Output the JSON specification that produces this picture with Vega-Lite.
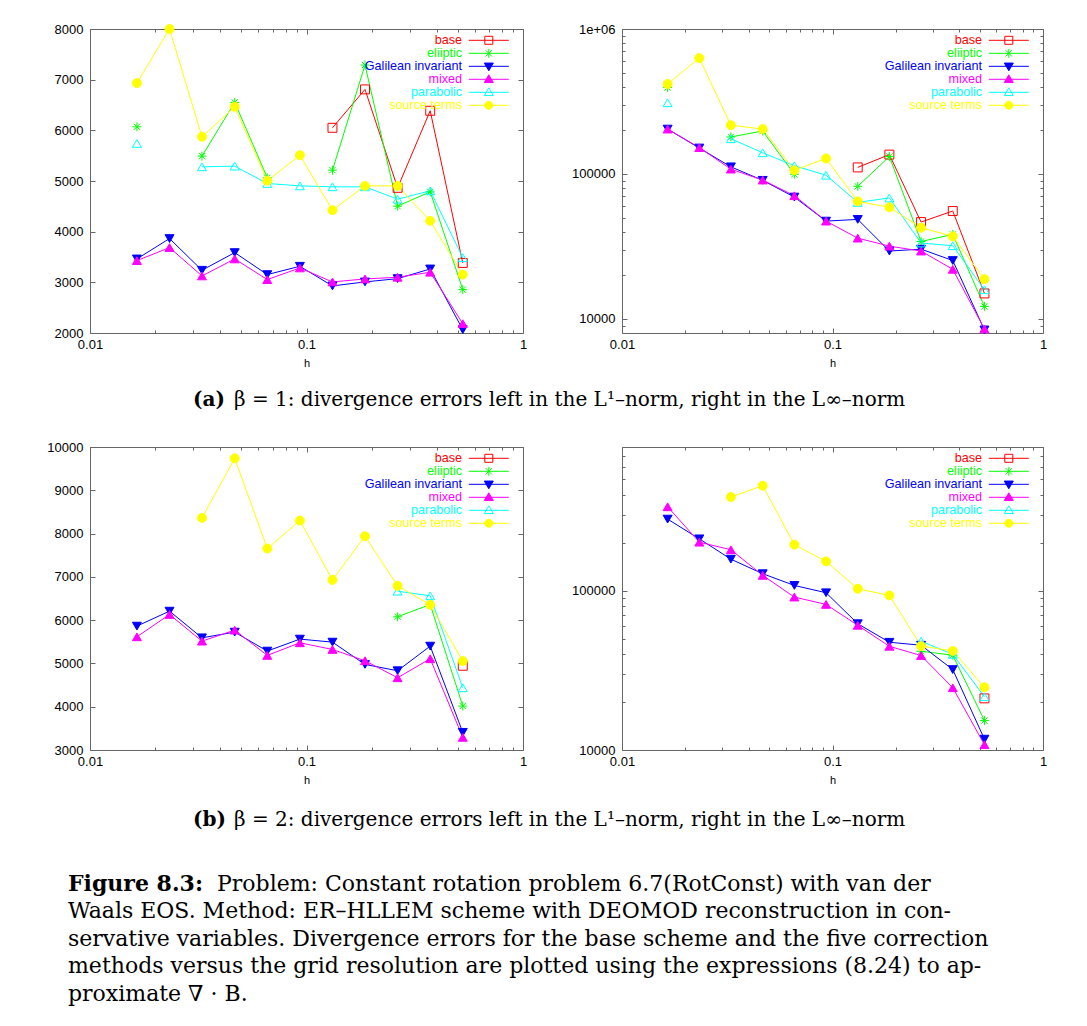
{
"$schema":"https://vega.github.io/schema/vega-lite/v6.json",
"padding":{"left":46,"top":22,"right":0,"bottom":0},
"background":"white",
"datasets":{"d":[
{"p":"a1","s":"base","h":0.1318,"v":6050},{"p":"a1","s":"base","h":0.1863,"v":6808},{"p":"a1","s":"base","h":0.2635,"v":4865},{"p":"a1","s":"base","h":0.3727,"v":6386},{"p":"a1","s":"base","h":0.527,"v":3383},
{"p":"a1","s":"eliiptic","h":0.01647,"v":6070},{"p":"a1","s":"eliiptic","h":0.0233,"v":null},{"p":"a1","s":"eliiptic","h":0.0329,"v":5491},{"p":"a1","s":"eliiptic","h":0.0466,"v":6551},{"p":"a1","s":"eliiptic","h":0.0659,"v":5063},{"p":"a1","s":"eliiptic","h":0.0932,"v":null},{"p":"a1","s":"eliiptic","h":0.1318,"v":5214},{"p":"a1","s":"eliiptic","h":0.1863,"v":7289},{"p":"a1","s":"eliiptic","h":0.2635,"v":4503},{"p":"a1","s":"eliiptic","h":0.3727,"v":4786},{"p":"a1","s":"eliiptic","h":0.527,"v":2856},
{"p":"a1","s":"Galilean invariant","h":0.01647,"v":3462},{"p":"a1","s":"Galilean invariant","h":0.0233,"v":3864},{"p":"a1","s":"Galilean invariant","h":0.0329,"v":3238},{"p":"a1","s":"Galilean invariant","h":0.0466,"v":3587},{"p":"a1","s":"Galilean invariant","h":0.0659,"v":3153},{"p":"a1","s":"Galilean invariant","h":0.0932,"v":3317},{"p":"a1","s":"Galilean invariant","h":0.1318,"v":2929},{"p":"a1","s":"Galilean invariant","h":0.1863,"v":3008},{"p":"a1","s":"Galilean invariant","h":0.2635,"v":3073},{"p":"a1","s":"Galilean invariant","h":0.3727,"v":3264},{"p":"a1","s":"Galilean invariant","h":0.527,"v":2066},
{"p":"a1","s":"mixed","h":0.01647,"v":3429},{"p":"a1","s":"mixed","h":0.0233,"v":3686},{"p":"a1","s":"mixed","h":0.0329,"v":3126},{"p":"a1","s":"mixed","h":0.0466,"v":3462},{"p":"a1","s":"mixed","h":0.0659,"v":3054},{"p":"a1","s":"mixed","h":0.0932,"v":3284},{"p":"a1","s":"mixed","h":0.1318,"v":3008},{"p":"a1","s":"mixed","h":0.1863,"v":3067},{"p":"a1","s":"mixed","h":0.2635,"v":3100},{"p":"a1","s":"mixed","h":0.3727,"v":3199},{"p":"a1","s":"mixed","h":0.527,"v":2184},
{"p":"a1","s":"parabolic","h":0.01647,"v":5741},{"p":"a1","s":"parabolic","h":0.0233,"v":null},{"p":"a1","s":"parabolic","h":0.0329,"v":5280},{"p":"a1","s":"parabolic","h":0.0466,"v":5293},{"p":"a1","s":"parabolic","h":0.0659,"v":4951},{"p":"a1","s":"parabolic","h":0.0932,"v":4904},{"p":"a1","s":"parabolic","h":0.1318,"v":4885},{"p":"a1","s":"parabolic","h":0.1863,"v":4885},{"p":"a1","s":"parabolic","h":0.2635,"v":4641},{"p":"a1","s":"parabolic","h":0.3727,"v":4806},{"p":"a1","s":"parabolic","h":0.527,"v":3488},
{"p":"a1","s":"source terms","h":0.01647,"v":6933},{"p":"a1","s":"source terms","h":0.0233,"v":8000},{"p":"a1","s":"source terms","h":0.0329,"v":5873},{"p":"a1","s":"source terms","h":0.0466,"v":6465},{"p":"a1","s":"source terms","h":0.0659,"v":5003},{"p":"a1","s":"source terms","h":0.0932,"v":5510},{"p":"a1","s":"source terms","h":0.1318,"v":4424},{"p":"a1","s":"source terms","h":0.1863,"v":4904},{"p":"a1","s":"source terms","h":0.2635,"v":4904},{"p":"a1","s":"source terms","h":0.3727,"v":4213},{"p":"a1","s":"source terms","h":0.527,"v":3152},

{"p":"a2","s":"base","h":0.1318,"v":111000},{"p":"a2","s":"base","h":0.1863,"v":136000},{"p":"a2","s":"base","h":0.2635,"v":46600},{"p":"a2","s":"base","h":0.3727,"v":55500},{"p":"a2","s":"base","h":0.527,"v":15000},
{"p":"a2","s":"eliiptic","h":0.01647,"v":395000},{"p":"a2","s":"eliiptic","h":0.0233,"v":null},{"p":"a2","s":"eliiptic","h":0.0329,"v":180000},{"p":"a2","s":"eliiptic","h":0.0466,"v":198000},{"p":"a2","s":"eliiptic","h":0.0659,"v":99500},{"p":"a2","s":"eliiptic","h":0.0932,"v":null},{"p":"a2","s":"eliiptic","h":0.1318,"v":82200},{"p":"a2","s":"eliiptic","h":0.1863,"v":132000},{"p":"a2","s":"eliiptic","h":0.2635,"v":34200},{"p":"a2","s":"eliiptic","h":0.3727,"v":38300},{"p":"a2","s":"eliiptic","h":0.527,"v":12200},
{"p":"a2","s":"Galilean invariant","h":0.01647,"v":204000},{"p":"a2","s":"Galilean invariant","h":0.0233,"v":151000},{"p":"a2","s":"Galilean invariant","h":0.0329,"v":112000},{"p":"a2","s":"Galilean invariant","h":0.0466,"v":90400},{"p":"a2","s":"Galilean invariant","h":0.0659,"v":69300},{"p":"a2","s":"Galilean invariant","h":0.0932,"v":47300},{"p":"a2","s":"Galilean invariant","h":0.1318,"v":48600},{"p":"a2","s":"Galilean invariant","h":0.1863,"v":29400},{"p":"a2","s":"Galilean invariant","h":0.2635,"v":30300},{"p":"a2","s":"Galilean invariant","h":0.3727,"v":25300},{"p":"a2","s":"Galilean invariant","h":0.527,"v":8400},
{"p":"a2","s":"mixed","h":0.01647,"v":204000},{"p":"a2","s":"mixed","h":0.0233,"v":152000},{"p":"a2","s":"mixed","h":0.0329,"v":108000},{"p":"a2","s":"mixed","h":0.0466,"v":90800},{"p":"a2","s":"mixed","h":0.0659,"v":70800},{"p":"a2","s":"mixed","h":0.0932,"v":47300},{"p":"a2","s":"mixed","h":0.1318,"v":36100},{"p":"a2","s":"mixed","h":0.1863,"v":31800},{"p":"a2","s":"mixed","h":0.2635,"v":29400},{"p":"a2","s":"mixed","h":0.3727,"v":22000},{"p":"a2","s":"mixed","h":0.527,"v":8530},
{"p":"a2","s":"parabolic","h":0.01647,"v":310000},{"p":"a2","s":"parabolic","h":0.0233,"v":null},{"p":"a2","s":"parabolic","h":0.0329,"v":175000},{"p":"a2","s":"parabolic","h":0.0466,"v":140000},{"p":"a2","s":"parabolic","h":0.0659,"v":114000},{"p":"a2","s":"parabolic","h":0.0932,"v":98000},{"p":"a2","s":"parabolic","h":0.1318,"v":63700},{"p":"a2","s":"parabolic","h":0.1863,"v":68300},{"p":"a2","s":"parabolic","h":0.2635,"v":33400},{"p":"a2","s":"parabolic","h":0.3727,"v":32000},{"p":"a2","s":"parabolic","h":0.527,"v":15900},
{"p":"a2","s":"source terms","h":0.01647,"v":417000},{"p":"a2","s":"source terms","h":0.0233,"v":630000},{"p":"a2","s":"source terms","h":0.0329,"v":217000},{"p":"a2","s":"source terms","h":0.0466,"v":204000},{"p":"a2","s":"source terms","h":0.0659,"v":106000},{"p":"a2","s":"source terms","h":0.0932,"v":128000},{"p":"a2","s":"source terms","h":0.1318,"v":64700},{"p":"a2","s":"source terms","h":0.1863,"v":58900},{"p":"a2","s":"source terms","h":0.2635,"v":42600},{"p":"a2","s":"source terms","h":0.3727,"v":37100},{"p":"a2","s":"source terms","h":0.527,"v":18800},

{"p":"b1","s":"base","h":0.527,"v":4946},
{"p":"b1","s":"eliiptic","h":0.2635,"v":6077},{"p":"b1","s":"eliiptic","h":0.3727,"v":6362},{"p":"b1","s":"eliiptic","h":0.527,"v":4015},
{"p":"b1","s":"Galilean invariant","h":0.01647,"v":5862},{"p":"b1","s":"Galilean invariant","h":0.0233,"v":6208},{"p":"b1","s":"Galilean invariant","h":0.0329,"v":5592},{"p":"b1","s":"Galilean invariant","h":0.0466,"v":5723},{"p":"b1","s":"Galilean invariant","h":0.0659,"v":5285},{"p":"b1","s":"Galilean invariant","h":0.0932,"v":5562},{"p":"b1","s":"Galilean invariant","h":0.1318,"v":5492},{"p":"b1","s":"Galilean invariant","h":0.1863,"v":4977},{"p":"b1","s":"Galilean invariant","h":0.2635,"v":4831},{"p":"b1","s":"Galilean invariant","h":0.3727,"v":5400},{"p":"b1","s":"Galilean invariant","h":0.527,"v":3408},
{"p":"b1","s":"mixed","h":0.01647,"v":5615},{"p":"b1","s":"mixed","h":0.0233,"v":6131},{"p":"b1","s":"mixed","h":0.0329,"v":5515},{"p":"b1","s":"mixed","h":0.0466,"v":5769},{"p":"b1","s":"mixed","h":0.0659,"v":5185},{"p":"b1","s":"mixed","h":0.0932,"v":5477},{"p":"b1","s":"mixed","h":0.1318,"v":5323},{"p":"b1","s":"mixed","h":0.1863,"v":5062},{"p":"b1","s":"mixed","h":0.2635,"v":4669},{"p":"b1","s":"mixed","h":0.3727,"v":5108},{"p":"b1","s":"mixed","h":0.527,"v":3292},
{"p":"b1","s":"parabolic","h":0.2635,"v":6669},{"p":"b1","s":"parabolic","h":0.3727,"v":6562},{"p":"b1","s":"parabolic","h":0.527,"v":4438},
{"p":"b1","s":"source terms","h":0.0329,"v":8362},{"p":"b1","s":"source terms","h":0.0466,"v":9738},{"p":"b1","s":"source terms","h":0.0659,"v":7654},{"p":"b1","s":"source terms","h":0.0932,"v":8300},{"p":"b1","s":"source terms","h":0.1318,"v":6931},{"p":"b1","s":"source terms","h":0.1863,"v":7938},{"p":"b1","s":"source terms","h":0.2635,"v":6792},{"p":"b1","s":"source terms","h":0.3727,"v":6354},{"p":"b1","s":"source terms","h":0.527,"v":5054},

{"p":"b2","s":"base","h":0.527,"v":21100},
{"p":"b2","s":"eliiptic","h":0.2635,"v":41700},{"p":"b2","s":"eliiptic","h":0.3727,"v":39400},{"p":"b2","s":"eliiptic","h":0.527,"v":15300},
{"p":"b2","s":"Galilean invariant","h":0.01647,"v":282000},{"p":"b2","s":"Galilean invariant","h":0.0233,"v":212000},{"p":"b2","s":"Galilean invariant","h":0.0329,"v":158000},{"p":"b2","s":"Galilean invariant","h":0.0466,"v":128000},{"p":"b2","s":"Galilean invariant","h":0.0659,"v":108000},{"p":"b2","s":"Galilean invariant","h":0.0932,"v":97200},{"p":"b2","s":"Galilean invariant","h":0.1318,"v":62100},{"p":"b2","s":"Galilean invariant","h":0.1863,"v":47500},{"p":"b2","s":"Galilean invariant","h":0.2635,"v":45500},{"p":"b2","s":"Galilean invariant","h":0.3727,"v":32000},{"p":"b2","s":"Galilean invariant","h":0.527,"v":11700},
{"p":"b2","s":"mixed","h":0.01647,"v":337000},{"p":"b2","s":"mixed","h":0.0233,"v":202000},{"p":"b2","s":"mixed","h":0.0329,"v":181000},{"p":"b2","s":"mixed","h":0.0466,"v":125000},{"p":"b2","s":"mixed","h":0.0659,"v":91300},{"p":"b2","s":"mixed","h":0.0932,"v":82100},{"p":"b2","s":"mixed","h":0.1318,"v":60700},{"p":"b2","s":"mixed","h":0.1863,"v":44800},{"p":"b2","s":"mixed","h":0.2635,"v":39200},{"p":"b2","s":"mixed","h":0.3727,"v":24600},{"p":"b2","s":"mixed","h":0.527,"v":10800},
{"p":"b2","s":"parabolic","h":0.2635,"v":48200},{"p":"b2","s":"parabolic","h":0.3727,"v":39900},{"p":"b2","s":"parabolic","h":0.527,"v":21600},
{"p":"b2","s":"source terms","h":0.0329,"v":388000},{"p":"b2","s":"source terms","h":0.0466,"v":457000},{"p":"b2","s":"source terms","h":0.0659,"v":195000},{"p":"b2","s":"source terms","h":0.0932,"v":153000},{"p":"b2","s":"source terms","h":0.1318,"v":103000},{"p":"b2","s":"source terms","h":0.1863,"v":93500},{"p":"b2","s":"source terms","h":0.2635,"v":45000},{"p":"b2","s":"source terms","h":0.3727,"v":41900},{"p":"b2","s":"source terms","h":0.527,"v":24800}
]},
"columns":1,
"spacing":0,
"resolve":{"scale":{"color":"independent","shape":"independent","stroke":"independent","fill":"independent"}},
"concat":[
{"hconcat":[
 {"width":433,"height":304,"data":{"name":"d"},"transform":[{"filter":"datum.p=='a1'"}],
  "layer":[
   {"mark":{"type":"line","strokeWidth":1,"clip":true,"invalid":"break-paths-filter-domains"},
    "encoding":{
     "x":{"field":"h","type":"quantitative","scale":{"type":"log","domain":[0.01,1]},"axis":{"orient":"bottom","title":"h","values":[0.01,0.02,0.03,0.04,0.05,0.06,0.07,0.08,0.09,0.1,0.2,0.3,0.4,0.5,0.6,0.7,0.8,0.9,1],"labelExpr":"datum.value==0.01?'0.01':datum.value==0.1?'0.1':datum.value==1?'1':''","tickSize":{"condition":{"test":"datum.value==0.01||datum.value==0.1||datum.value==1","value":-5},"value":-3},"labelPadding":10.5,"titlePadding":4}},
     "y":{"field":"v","type":"quantitative","scale":{"domain":[2000,8000],"zero":false,"nice":false},"axis":{"orient":"left","title":null,"values":[2000,3000,4000,5000,6000,7000,8000],"format":"d","tickSize":-5,"labelPadding":12}},
     "color":{"field":"s","type":"nominal","scale":{"domain":["base","eliiptic","Galilean invariant","mixed","parabolic","source terms"],"range":["#ff0000","#00ff00","#0000ff","#ff00ff","#00ffff","#ffff00"]},
      "legend":{"orient":"none","legendX":392.5,"legendY":5,"title":null,"padding":0,"rowPadding":-2.4,"symbolSize":100,"symbolStrokeWidth":1,"symbolOpacity":1,
       "symbolType":{"expr":"datum.value=='base'?'M-4,0H4M-0.8,-0.8H0.8V0.8H-0.8Z':datum.value=='eliiptic'?'M-4,0H4M0,-0.9V0.9M-0.64,-0.64L0.64,0.64M-0.64,0.64L0.64,-0.64':datum.value=='Galilean invariant'?'M-4,0H4M-0.9,-0.65H0.9L0,0.9Z':datum.value=='source terms'?'M-4,0H4M-0.8,0A0.8,0.8,0,1,0,0.8,0A0.8,0.8,0,1,0,-0.8,0Z':'M-4,0H4M-0.9,0.65H0.9L0,-0.9Z'"},
       "symbolFillColor":{"expr":"datum.value=='Galilean invariant'?'#0000ff':datum.value=='mixed'?'#ff00ff':datum.value=='source terms'?'#ffff00':'transparent'"},
       "labelAlign":"right","labelOffset":-33,"labelFont":"Liberation Sans","labelFontSize":12.6,
       "labelColor":{"expr":"datum.value=='base'?'#ff0000':datum.value=='eliiptic'?'#00ff00':datum.value=='Galilean invariant'?'#0000ff':datum.value=='mixed'?'#ff00ff':datum.value=='parabolic'?'#00ffff':'#ffff00'"}}}
    }},
   {"mark":{"type":"point","size":80,"strokeWidth":1,"opacity":1},
    "encoding":{
     "x":{"field":"h","type":"quantitative","axis":{"orient":"top","labels":false,"title":null,"values":[0.01,0.02,0.03,0.04,0.05,0.06,0.07,0.08,0.09,0.1,0.2,0.3,0.4,0.5,0.6,0.7,0.8,0.9,1],"tickSize":{"condition":{"test":"datum.value==0.01||datum.value==0.1||datum.value==1","value":-5},"value":-3}}},
     "y":{"field":"v","type":"quantitative","axis":{"orient":"right","labels":false,"title":null,"values":[2000,3000,4000,5000,6000,7000,8000],"tickSize":-5}},
     "shape":{"field":"s","type":"nominal","scale":{"domain":["source terms","parabolic","mixed","Galilean invariant","eliiptic","base"],"range":["circle","triangle-up","triangle-up","triangle-down","M-1,0H1M0,-1V1M-0.7,-0.7L0.7,0.7M-0.7,0.7L0.7,-0.7","square"]},"legend":null},
     "stroke":{"field":"s","type":"nominal","scale":{"domain":["source terms","parabolic","mixed","Galilean invariant","eliiptic","base"],"range":["#ffff00","#00ffff","#ff00ff","#0000ff","#00ff00","#ff0000"]},"legend":null},
     "fill":{"field":"s","type":"nominal","scale":{"domain":["source terms","parabolic","mixed","Galilean invariant","eliiptic","base"],"range":["#ffff00","transparent","#ff00ff","#0000ff","transparent","transparent"]},"legend":null}
    }}
  ],
  "resolve":{"axis":{"x":"independent","y":"independent"}}},
 {"width":421,"height":304,"data":{"name":"d"},"transform":[{"filter":"datum.p=='a2'"}],
  "layer":[
   {"mark":{"type":"line","strokeWidth":1,"clip":true,"invalid":"break-paths-filter-domains"},
    "encoding":{
     "x":{"field":"h","type":"quantitative","scale":{"type":"log","domain":[0.01,1]},"axis":{"orient":"bottom","title":"h","values":[0.01,0.02,0.03,0.04,0.05,0.06,0.07,0.08,0.09,0.1,0.2,0.3,0.4,0.5,0.6,0.7,0.8,0.9,1],"labelExpr":"datum.value==0.01?'0.01':datum.value==0.1?'0.1':datum.value==1?'1':''","tickSize":{"condition":{"test":"datum.value==0.01||datum.value==0.1||datum.value==1","value":-5},"value":-3},"labelPadding":10.5,"titlePadding":4}},
     "y":{"field":"v","type":"quantitative","scale":{"type":"log","domain":[8000,1000000],"nice":false},"axis":{"orient":"left","title":null,"values":[9000,10000,20000,30000,40000,50000,60000,70000,80000,90000,100000,200000,300000,400000,500000,600000,700000,800000,900000,1000000],"labelExpr":"datum.value==1000000?'1e+06':datum.value==100000?'100000':datum.value==10000?'10000':''","tickSize":{"condition":{"test":"datum.value==10000||datum.value==100000||datum.value==1000000","value":-5},"value":-3},"labelPadding":12}},
     "color":{"field":"s","type":"nominal","scale":{"domain":["base","eliiptic","Galilean invariant","mixed","parabolic","source terms"],"range":["#ff0000","#00ff00","#0000ff","#ff00ff","#00ffff","#ffff00"]},
      "legend":{"orient":"none","legendX":380.5,"legendY":5,"title":null,"padding":0,"rowPadding":-2.4,"symbolSize":100,"symbolStrokeWidth":1,"symbolOpacity":1,
       "symbolType":{"expr":"datum.value=='base'?'M-4,0H4M-0.8,-0.8H0.8V0.8H-0.8Z':datum.value=='eliiptic'?'M-4,0H4M0,-0.9V0.9M-0.64,-0.64L0.64,0.64M-0.64,0.64L0.64,-0.64':datum.value=='Galilean invariant'?'M-4,0H4M-0.9,-0.65H0.9L0,0.9Z':datum.value=='source terms'?'M-4,0H4M-0.8,0A0.8,0.8,0,1,0,0.8,0A0.8,0.8,0,1,0,-0.8,0Z':'M-4,0H4M-0.9,0.65H0.9L0,-0.9Z'"},
       "symbolFillColor":{"expr":"datum.value=='Galilean invariant'?'#0000ff':datum.value=='mixed'?'#ff00ff':datum.value=='source terms'?'#ffff00':'transparent'"},
       "labelAlign":"right","labelOffset":-33,"labelFont":"Liberation Sans","labelFontSize":12.6,
       "labelColor":{"expr":"datum.value=='base'?'#ff0000':datum.value=='eliiptic'?'#00ff00':datum.value=='Galilean invariant'?'#0000ff':datum.value=='mixed'?'#ff00ff':datum.value=='parabolic'?'#00ffff':'#ffff00'"}}}
    }},
   {"mark":{"type":"point","size":80,"strokeWidth":1,"opacity":1},
    "encoding":{
     "x":{"field":"h","type":"quantitative","axis":{"orient":"top","labels":false,"title":null,"values":[0.01,0.02,0.03,0.04,0.05,0.06,0.07,0.08,0.09,0.1,0.2,0.3,0.4,0.5,0.6,0.7,0.8,0.9,1],"tickSize":{"condition":{"test":"datum.value==0.01||datum.value==0.1||datum.value==1","value":-5},"value":-3}}},
     "y":{"field":"v","type":"quantitative","axis":{"orient":"right","labels":false,"title":null,"values":[9000,10000,20000,30000,40000,50000,60000,70000,80000,90000,100000,200000,300000,400000,500000,600000,700000,800000,900000,1000000],"tickSize":{"condition":{"test":"datum.value==10000||datum.value==100000||datum.value==1000000","value":-5},"value":-3}}},
     "shape":{"field":"s","type":"nominal","scale":{"domain":["source terms","parabolic","mixed","Galilean invariant","eliiptic","base"],"range":["circle","triangle-up","triangle-up","triangle-down","M-1,0H1M0,-1V1M-0.7,-0.7L0.7,0.7M-0.7,0.7L0.7,-0.7","square"]},"legend":null},
     "stroke":{"field":"s","type":"nominal","scale":{"domain":["source terms","parabolic","mixed","Galilean invariant","eliiptic","base"],"range":["#ffff00","#00ffff","#ff00ff","#0000ff","#00ff00","#ff0000"]},"legend":null},
     "fill":{"field":"s","type":"nominal","scale":{"domain":["source terms","parabolic","mixed","Galilean invariant","eliiptic","base"],"range":["#ffff00","transparent","#ff00ff","#0000ff","transparent","transparent"]},"legend":null}
    }}
  ],
  "resolve":{"axis":{"x":"independent","y":"independent"}}}
 ],"spacing":43,
 "resolve":{"scale":{"color":"independent","shape":"independent","stroke":"independent","fill":"independent"}}},
{"width":1000,"height":71,"view":{"stroke":null},
 "data":{"values":[{"a":"(a)","r":"β = 1: divergence errors left in the L¹–norm, right in the L∞–norm"}]},
 "layer":[
  {"mark":{"type":"text","align":"left","font":"DejaVu Serif","fontSize":20,"fontWeight":"bold","color":"#000","dx":-397,"dy":-5},"encoding":{"text":{"field":"a"}}},
  {"mark":{"type":"text","align":"left","font":"DejaVu Serif","fontSize":20,"color":"#000","dx":-356,"dy":-5},"encoding":{"text":{"field":"r"}}}
 ]},
{"hconcat":[
 {"width":433,"height":303,"data":{"name":"d"},"transform":[{"filter":"datum.p=='b1'"}],
  "layer":[
   {"mark":{"type":"line","strokeWidth":1,"clip":true,"invalid":"break-paths-filter-domains"},
    "encoding":{
     "x":{"field":"h","type":"quantitative","scale":{"type":"log","domain":[0.01,1]},"axis":{"orient":"bottom","title":"h","values":[0.01,0.02,0.03,0.04,0.05,0.06,0.07,0.08,0.09,0.1,0.2,0.3,0.4,0.5,0.6,0.7,0.8,0.9,1],"labelExpr":"datum.value==0.01?'0.01':datum.value==0.1?'0.1':datum.value==1?'1':''","tickSize":{"condition":{"test":"datum.value==0.01||datum.value==0.1||datum.value==1","value":-5},"value":-3},"labelPadding":10.5,"titlePadding":4}},
     "y":{"field":"v","type":"quantitative","scale":{"domain":[3000,10000],"zero":false,"nice":false},"axis":{"orient":"left","title":null,"values":[3000,4000,5000,6000,7000,8000,9000,10000],"format":"d","tickSize":-5,"labelPadding":12}},
     "color":{"field":"s","type":"nominal","scale":{"domain":["base","eliiptic","Galilean invariant","mixed","parabolic","source terms"],"range":["#ff0000","#00ff00","#0000ff","#ff00ff","#00ffff","#ffff00"]},
      "legend":{"orient":"none","legendX":392.5,"legendY":5,"title":null,"padding":0,"rowPadding":-2.4,"symbolSize":100,"symbolStrokeWidth":1,"symbolOpacity":1,
       "symbolType":{"expr":"datum.value=='base'?'M-4,0H4M-0.8,-0.8H0.8V0.8H-0.8Z':datum.value=='eliiptic'?'M-4,0H4M0,-0.9V0.9M-0.64,-0.64L0.64,0.64M-0.64,0.64L0.64,-0.64':datum.value=='Galilean invariant'?'M-4,0H4M-0.9,-0.65H0.9L0,0.9Z':datum.value=='source terms'?'M-4,0H4M-0.8,0A0.8,0.8,0,1,0,0.8,0A0.8,0.8,0,1,0,-0.8,0Z':'M-4,0H4M-0.9,0.65H0.9L0,-0.9Z'"},
       "symbolFillColor":{"expr":"datum.value=='Galilean invariant'?'#0000ff':datum.value=='mixed'?'#ff00ff':datum.value=='source terms'?'#ffff00':'transparent'"},
       "labelAlign":"right","labelOffset":-33,"labelFont":"Liberation Sans","labelFontSize":12.6,
       "labelColor":{"expr":"datum.value=='base'?'#ff0000':datum.value=='eliiptic'?'#00ff00':datum.value=='Galilean invariant'?'#0000ff':datum.value=='mixed'?'#ff00ff':datum.value=='parabolic'?'#00ffff':'#ffff00'"}}}
    }},
   {"mark":{"type":"point","size":80,"strokeWidth":1,"opacity":1},
    "encoding":{
     "x":{"field":"h","type":"quantitative","axis":{"orient":"top","labels":false,"title":null,"values":[0.01,0.02,0.03,0.04,0.05,0.06,0.07,0.08,0.09,0.1,0.2,0.3,0.4,0.5,0.6,0.7,0.8,0.9,1],"tickSize":{"condition":{"test":"datum.value==0.01||datum.value==0.1||datum.value==1","value":-5},"value":-3}}},
     "y":{"field":"v","type":"quantitative","axis":{"orient":"right","labels":false,"title":null,"values":[3000,4000,5000,6000,7000,8000,9000,10000],"tickSize":-5}},
     "shape":{"field":"s","type":"nominal","scale":{"domain":["source terms","parabolic","mixed","Galilean invariant","eliiptic","base"],"range":["circle","triangle-up","triangle-up","triangle-down","M-1,0H1M0,-1V1M-0.7,-0.7L0.7,0.7M-0.7,0.7L0.7,-0.7","square"]},"legend":null},
     "stroke":{"field":"s","type":"nominal","scale":{"domain":["source terms","parabolic","mixed","Galilean invariant","eliiptic","base"],"range":["#ffff00","#00ffff","#ff00ff","#0000ff","#00ff00","#ff0000"]},"legend":null},
     "fill":{"field":"s","type":"nominal","scale":{"domain":["source terms","parabolic","mixed","Galilean invariant","eliiptic","base"],"range":["#ffff00","transparent","#ff00ff","#0000ff","transparent","transparent"]},"legend":null}
    }}
  ],
  "resolve":{"axis":{"x":"independent","y":"independent"}}},
 {"width":421,"height":303,"data":{"name":"d"},"transform":[{"filter":"datum.p=='b2'"}],
  "layer":[
   {"mark":{"type":"line","strokeWidth":1,"clip":true,"invalid":"break-paths-filter-domains"},
    "encoding":{
     "x":{"field":"h","type":"quantitative","scale":{"type":"log","domain":[0.01,1]},"axis":{"orient":"bottom","title":"h","values":[0.01,0.02,0.03,0.04,0.05,0.06,0.07,0.08,0.09,0.1,0.2,0.3,0.4,0.5,0.6,0.7,0.8,0.9,1],"labelExpr":"datum.value==0.01?'0.01':datum.value==0.1?'0.1':datum.value==1?'1':''","tickSize":{"condition":{"test":"datum.value==0.01||datum.value==0.1||datum.value==1","value":-5},"value":-3},"labelPadding":10.5,"titlePadding":4}},
     "y":{"field":"v","type":"quantitative","scale":{"type":"log","domain":[10000,800000],"nice":false},"axis":{"orient":"left","title":null,"values":[10000,20000,30000,40000,50000,60000,70000,80000,90000,100000,200000,300000,400000,500000,600000,700000,800000],"labelExpr":"datum.value==100000?'100000':datum.value==10000?'10000':''","tickSize":{"condition":{"test":"datum.value==10000||datum.value==100000","value":-5},"value":-3},"labelPadding":12}},
     "color":{"field":"s","type":"nominal","scale":{"domain":["base","eliiptic","Galilean invariant","mixed","parabolic","source terms"],"range":["#ff0000","#00ff00","#0000ff","#ff00ff","#00ffff","#ffff00"]},
      "legend":{"orient":"none","legendX":380.5,"legendY":5,"title":null,"padding":0,"rowPadding":-2.4,"symbolSize":100,"symbolStrokeWidth":1,"symbolOpacity":1,
       "symbolType":{"expr":"datum.value=='base'?'M-4,0H4M-0.8,-0.8H0.8V0.8H-0.8Z':datum.value=='eliiptic'?'M-4,0H4M0,-0.9V0.9M-0.64,-0.64L0.64,0.64M-0.64,0.64L0.64,-0.64':datum.value=='Galilean invariant'?'M-4,0H4M-0.9,-0.65H0.9L0,0.9Z':datum.value=='source terms'?'M-4,0H4M-0.8,0A0.8,0.8,0,1,0,0.8,0A0.8,0.8,0,1,0,-0.8,0Z':'M-4,0H4M-0.9,0.65H0.9L0,-0.9Z'"},
       "symbolFillColor":{"expr":"datum.value=='Galilean invariant'?'#0000ff':datum.value=='mixed'?'#ff00ff':datum.value=='source terms'?'#ffff00':'transparent'"},
       "labelAlign":"right","labelOffset":-33,"labelFont":"Liberation Sans","labelFontSize":12.6,
       "labelColor":{"expr":"datum.value=='base'?'#ff0000':datum.value=='eliiptic'?'#00ff00':datum.value=='Galilean invariant'?'#0000ff':datum.value=='mixed'?'#ff00ff':datum.value=='parabolic'?'#00ffff':'#ffff00'"}}}
    }},
   {"mark":{"type":"point","size":80,"strokeWidth":1,"opacity":1},
    "encoding":{
     "x":{"field":"h","type":"quantitative","axis":{"orient":"top","labels":false,"title":null,"values":[0.01,0.02,0.03,0.04,0.05,0.06,0.07,0.08,0.09,0.1,0.2,0.3,0.4,0.5,0.6,0.7,0.8,0.9,1],"tickSize":{"condition":{"test":"datum.value==0.01||datum.value==0.1||datum.value==1","value":-5},"value":-3}}},
     "y":{"field":"v","type":"quantitative","axis":{"orient":"right","labels":false,"title":null,"values":[10000,20000,30000,40000,50000,60000,70000,80000,90000,100000,200000,300000,400000,500000,600000,700000,800000],"tickSize":{"condition":{"test":"datum.value==10000||datum.value==100000","value":-5},"value":-3}}},
     "shape":{"field":"s","type":"nominal","scale":{"domain":["source terms","parabolic","mixed","Galilean invariant","eliiptic","base"],"range":["circle","triangle-up","triangle-up","triangle-down","M-1,0H1M0,-1V1M-0.7,-0.7L0.7,0.7M-0.7,0.7L0.7,-0.7","square"]},"legend":null},
     "stroke":{"field":"s","type":"nominal","scale":{"domain":["source terms","parabolic","mixed","Galilean invariant","eliiptic","base"],"range":["#ffff00","#00ffff","#ff00ff","#0000ff","#00ff00","#ff0000"]},"legend":null},
     "fill":{"field":"s","type":"nominal","scale":{"domain":["source terms","parabolic","mixed","Galilean invariant","eliiptic","base"],"range":["#ffff00","transparent","#ff00ff","#0000ff","transparent","transparent"]},"legend":null}
    }}
  ],
  "resolve":{"axis":{"x":"independent","y":"independent"}}}
 ],"spacing":43,
 "resolve":{"scale":{"color":"independent","shape":"independent","stroke":"independent","fill":"independent"}}},
{"width":1000,"height":64,"view":{"stroke":null},
 "data":{"values":[{"a":"(b)","r":"β = 2: divergence errors left in the L¹–norm, right in the L∞–norm"}]},
 "layer":[
  {"mark":{"type":"text","align":"left","font":"DejaVu Serif","fontSize":20,"fontWeight":"bold","color":"#000","dx":-397,"dy":2},"encoding":{"text":{"field":"a"}}},
  {"mark":{"type":"text","align":"left","font":"DejaVu Serif","fontSize":20,"color":"#000","dx":-356,"dy":2},"encoding":{"text":{"field":"r"}}}
 ]},
{"width":1000,"height":165,"view":{"stroke":null},
 "data":{"values":[
  {"ln":1,"t":"Problem: Constant rotation problem 6.7(RotConst) with van der","b":"Figure 8.3:"},
  {"ln":2,"t":"Waals EOS. Method: ER–HLLEM scheme with DEOMOD reconstruction in con-"},
  {"ln":3,"t":"servative variables. Divergence errors for the base scheme and the five correction"},
  {"ln":4,"t":"methods versus the grid resolution are plotted using the expressions (8.24) to ap-"},
  {"ln":5,"t":"proximate ∇ · B."}]},
 "encoding":{
  "y":{"field":"ln","type":"ordinal","axis":null,"scale":{"type":"point","padding":1}},
  "x":{"datum":0,"type":"quantitative","axis":null,"scale":{"domain":[0,1]}}},
 "layer":[
  {"transform":[{"filter":"datum.ln>1"}],"mark":{"type":"text","align":"left","font":"DejaVu Serif","fontSize":22,"color":"#000","dx":-22,"dy":6},"encoding":{"text":{"field":"t"}}},
  {"transform":[{"filter":"datum.ln==1"}],"mark":{"type":"text","align":"left","font":"DejaVu Serif","fontSize":22,"color":"#000","dx":127,"dy":6},"encoding":{"text":{"field":"t"}}},
  {"transform":[{"filter":"datum.ln==1"}],"mark":{"type":"text","align":"left","font":"DejaVu Serif","fontSize":22,"fontWeight":"bold","color":"#000","dx":-22,"dy":6},"encoding":{"text":{"field":"b"}}}
 ]}
],
"config":{
 "view":{"stroke":"#666","strokeWidth":1},
 "axis":{"labelFont":"Liberation Sans","labelFontSize":13,"labelColor":"#000","tickColor":"#666","tickWidth":1,"domain":false,"grid":false,"titleFont":"Liberation Sans","titleFontSize":11,"titleFontWeight":"normal","titleColor":"#000","labelFlush":false,"labelOverlap":false}
}
}
